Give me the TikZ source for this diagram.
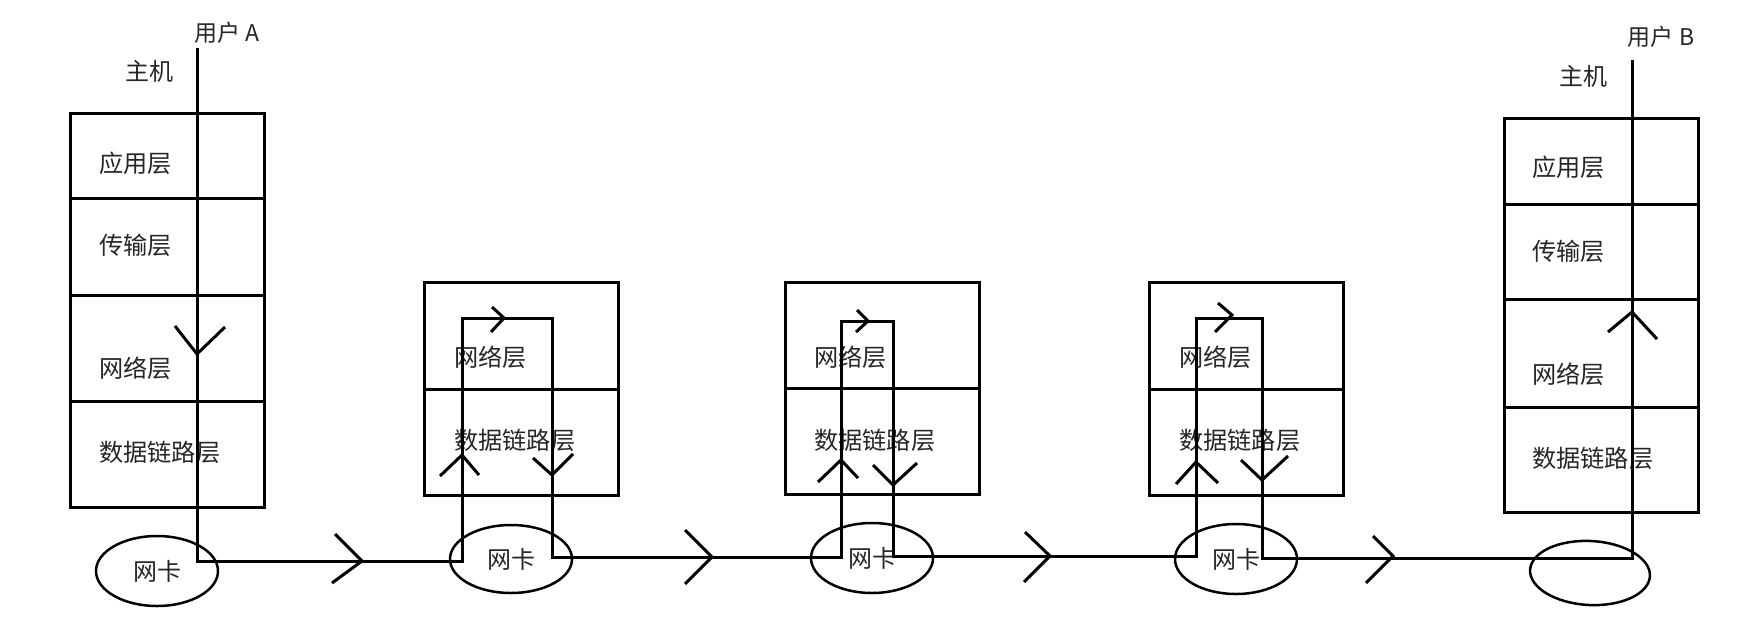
\documentclass[tikz,border=0pt]{standalone}
\usepackage{fontspec}
\setmainfont{Noto Sans CJK SC}
\usetikzlibrary{shapes.geometric}
\begin{document}
\begin{tikzpicture}[x=1pt,y=-1pt,
  box/.style={draw,line width=3pt,rectangle,anchor=north west,inner sep=0pt,minimum width=194pt},
  lbl/.style={anchor=west,inner sep=0pt,font=\fontsize{24.2}{24}\selectfont,text=black!85},
  ttl/.style={inner sep=0pt,font=\fontsize{23}{23}\selectfont,text=black!85},
  nic/.style={draw,ellipse,line width=2.5pt,inner sep=0pt,minimum width=122pt,minimum height=70pt,font=\fontsize{24}{24}\selectfont,text=black!85},
  wire/.style={line width=3pt},
  chev/.style={line width=3pt}]
\useasboundingbox (0,0) rectangle (1752,624);
\fill[white] (0,0) rectangle (1752,624);

% ---------- Host A ----------
\node[ttl] (userA) at (227,33) {用户 A};
\node[ttl,font=\fontsize{24}{24}\selectfont] (hostA) at (149,71) {主机};
\node[box,minimum height=85pt]  (a1) at (69,112) {};
\node[box,minimum height=97pt]  (a2) at (69,197) {};
\node[box,minimum height=106pt] (a3) at (69,294) {};
\node[box,minimum height=106pt] (a4) at (69,400) {};
\node[lbl] (a1t) at (99,163) {应用层};
\node[lbl] (a2t) at (99,245) {传输层};
\node[lbl] (a3t) at (99,368) {网络层};
\node[lbl] (a4t) at (99,452) {数据链路层};
\node[nic] (nicA) at (157,571) {网卡};

% ---------- Router 1 ----------
\node[box,minimum height=107pt] (r1a) at (423,281) {};
\node[box,minimum height=106pt] (r1b) at (423,388) {};
\node[lbl] (r1at) at (454,357) {网络层};
\node[lbl] (r1bt) at (454,440) {数据链路层};
\node[nic,minimum height=68pt] (nic1) at (511,559) {网卡};

% ---------- Router 2 ----------
\node[box,minimum height=106pt] (r2a) at (784,281) {};
\node[box,minimum height=106pt] (r2b) at (784,387) {};
\node[lbl] (r2at) at (814,357) {网络层};
\node[lbl] (r2bt) at (814,440) {数据链路层};
\node[nic] (nic2) at (872,558) {网卡};

% ---------- Router 3 ----------
\node[box,minimum height=107pt] (r3a) at (1148,281) {};
\node[box,minimum height=106pt] (r3b) at (1148,388) {};
\node[lbl] (r3at) at (1179,357) {网络层};
\node[lbl] (r3bt) at (1179,440) {数据链路层};
\node[nic] (nic3) at (1236,559) {网卡};

% ---------- Host B ----------
\node[ttl] (userB) at (1661,37) {用户 B};
\node[ttl,font=\fontsize{24}{24}\selectfont] (hostB) at (1583,76) {主机};
\node[box,minimum height=86pt]  (b1) at (1503,117) {};
\node[box,minimum height=95pt]  (b2) at (1503,203) {};
\node[box,minimum height=108pt] (b3) at (1503,298) {};
\node[box,minimum height=105pt] (b4) at (1503,406) {};
\node[lbl] (b1t) at (1532,167) {应用层};
\node[lbl] (b2t) at (1532,251) {传输层};
\node[lbl] (b3t) at (1532,374) {网络层};
\node[lbl] (b4t) at (1532,458) {数据链路层};
\node[nic,minimum width=120pt,minimum height=64pt,rotate=-3] (nicB) at (1590,573) {};

% ---------- data path ----------
\coordinate (uA) at (197,48);
\coordinate (cA) at (197,561);
\coordinate (p1in) at (462,561);
\coordinate (p1tl) at (462,318);
\coordinate (p1tr) at (552,318);
\coordinate (p1out) at (552,557);
\coordinate (p2in) at (841,557);
\coordinate (p2tl) at (841,321);
\coordinate (p2tr) at (893,321);
\coordinate (p2out) at (893,556);
\coordinate (p3in) at (1196,556);
\coordinate (p3tl) at (1196,318);
\coordinate (p3tr) at (1262,318);
\coordinate (p3out) at (1262,558);
\coordinate (cB) at (1632,558);
\coordinate (uB) at (1632,60);
\draw[wire] (uA) -- (cA) -- (p1in) -- (p1tl) -- (p1tr) -- (p1out) -- (p2in)
  -- (p2tl) -- (p2tr) -- (p2out) -- (p3in) -- (p3tl) -- (p3tr) -- (p3out)
  -- (cB) -- (uB);

% ---------- chevrons ----------
\draw[chev] (175,326) -- (197,354) -- (225,327);
\draw[chev] (335,534) -- (362,561) -- (332,583);
\draw[chev] (440,476) -- (462,455) -- (479,475);
\draw[chev] (492,307) -- (504,318) -- (491,332);
\draw[chev] (533,458) -- (552,475) -- (573,454);
\draw[chev] (685,530) -- (712,557) -- (685,584);
\draw[chev] (818,482) -- (841,460) -- (858,478);
\draw[chev] (857,310) -- (868,321) -- (856,332);
\draw[chev] (873,465) -- (893,485) -- (917,463);
\draw[chev] (1025,532) -- (1050,556) -- (1024,582);
\draw[chev] (1176,484) -- (1196,462) -- (1218,483);
\draw[chev] (1218,303) -- (1232,315) -- (1215,332);
\draw[chev] (1241,460) -- (1262,480) -- (1288,456);
\draw[chev] (1373,536) -- (1393,556) -- (1366,583);
\draw[chev] (1608,332) -- (1632,312) -- (1657,339);
\end{tikzpicture}
\end{document}
